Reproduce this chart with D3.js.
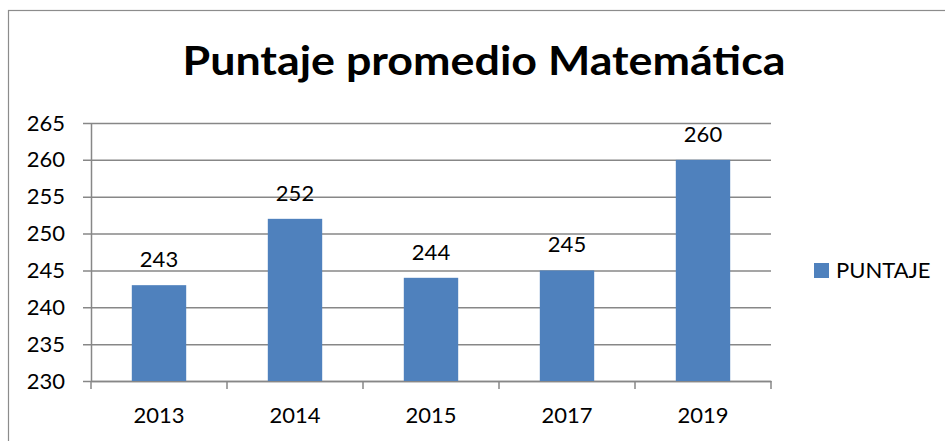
<!DOCTYPE html>
<html>
<head>
<meta charset="utf-8">
<script src="https://cdn.jsdelivr.net/npm/d3@7"></script>
<style>
  body { margin: 0; background: #fff; }
  svg text { font-family: Lato, "Open Sans", sans-serif; fill: #000; }
</style>
</head>
<body>
<svg id="chart" width="945" height="441"></svg>
<script>
const years = ['2013', '2014', '2015', '2017', '2019'];
const puntaje = [243, 252, 244, 245, 260];
const yTicks = [230, 235, 240, 245, 250, 255, 260, 265];
const seriesName = 'PUNTAJE';
const chartTitle = 'Puntaje promedio Matemática';

const svg = d3.select('svg#chart');
const margin = { top: 123, left: 91, right: 174, bottom: 60 };
const width = 945 - margin.left - margin.right;
const height = 381 - margin.top;
const barColor = '#4F81BD';
const gridColor = '#878787';
const labelSize = '22px';

// outer frame (only left/top edges fall inside the picture)
svg.append('rect')
    .attr('x', 8.5).attr('y', 10.5)
    .attr('width', 960).attr('height', 460)
    .attr('fill', 'none')
    .attr('stroke', '#8c8c8c')
    .attr('stroke-width', 1.2);

svg.append('text')
    .attr('x', 484).attr('y', 75)
    .attr('text-anchor', 'middle')
    .attr('textLength', 603)
    .attr('lengthAdjust', 'spacingAndGlyphs')
    .style('font-size', '41px')
    .style('font-weight', 'bold')
    .text(chartTitle);

const g = svg.append('g')
    .attr('transform', `translate(${margin.left},${margin.top})`);

const x = d3.scaleBand()
    .domain(years)
    .range([0, width])
    .paddingInner(0.6)
    .paddingOuter(0.3);

const y = d3.scaleLinear()
    .domain([230, 265])
    .range([height, 0]);

// y axis with gridlines
const yAxis = g.append('g')
    .attr('class', 'y-axis')
    .call(d3.axisLeft(y).tickValues(yTicks).tickSizeInner(-width).tickSizeOuter(0))
    .call(g => g.select('.domain').attr('stroke', gridColor).attr('stroke-width', 1.5));
yAxis.selectAll('.tick line')
    .attr('x1', -8)
    .attr('stroke', gridColor)
    .attr('stroke-width', 1.5);
yAxis.selectAll('.tick text')
    .attr('x', -26)
    .style('font-size', labelSize)
    .style('font-family', 'Lato, sans-serif');

// x axis, ticks between the categories
const xAxis = g.append('g')
    .attr('class', 'x-axis')
    .attr('transform', `translate(0,${height})`)
    .call(d3.axisBottom(x).tickSize(0).tickPadding(26))
    .call(g => g.select('.domain').attr('stroke', gridColor).attr('stroke-width', 1.5));
xAxis.selectAll('.tick text')
    .style('font-size', labelSize)
    .style('font-family', 'Lato, sans-serif');

const step = x.step();
const boundaries = d3.range(years.length + 1).map(i => i * step);
xAxis.selectAll('.sep')
    .data(boundaries)
    .enter()
    .append('line')
    .attr('class', 'sep')
    .attr('x1', d => d).attr('x2', d => d)
    .attr('y1', 0).attr('y2', 8)
    .attr('stroke', gridColor)
    .attr('stroke-width', 1.5);

const data = years.map((yr, i) => ({ year: yr, value: puntaje[i] }));

g.selectAll('rect.bar')
    .data(data)
    .enter()
    .append('rect')
    .attr('class', 'bar')
    .attr('x', d => x(d.year))
    .attr('y', d => y(d.value))
    .attr('width', x.bandwidth())
    .attr('height', d => height - y(d.value))
    .attr('fill', barColor);

g.selectAll('text.val')
    .data(data)
    .enter()
    .append('text')
    .attr('class', 'val')
    .attr('x', d => x(d.year) + x.bandwidth() / 2)
    .attr('y', d => y(d.value) - 18)
    .attr('text-anchor', 'middle')
    .style('font-size', labelSize)
    .text(d => d.value);

// legend
const legend = svg.append('g')
    .attr('transform', 'translate(814,263)');
legend.append('rect')
    .attr('width', 15).attr('height', 15)
    .attr('fill', barColor);
legend.append('text')
    .attr('x', 22).attr('y', 15)
    .style('font-size', labelSize)
    .text(seriesName);
</script>
</body>
</html>
